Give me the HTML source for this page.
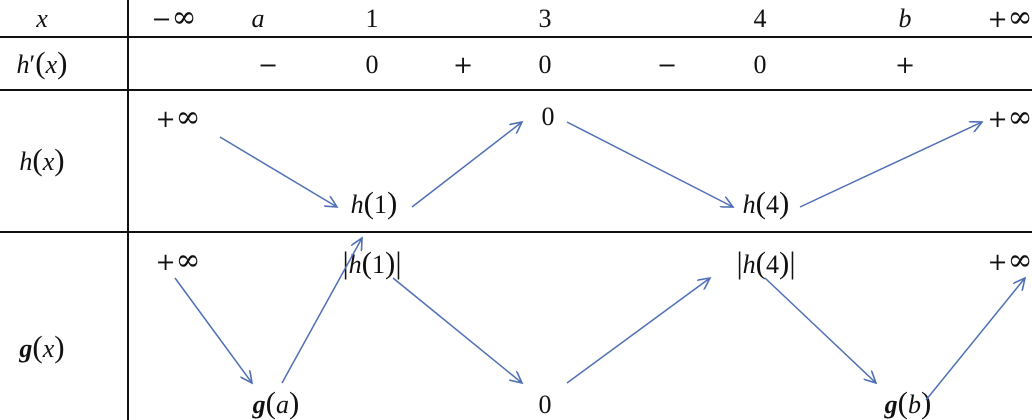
<!DOCTYPE html>
<html><head><meta charset="utf-8"><style>
html,body{margin:0;padding:0;background:#fff;}
svg{display:block;}
text{font-family:"Liberation Serif",serif;font-size:26px;fill:#111;}
.i{font-style:italic;}
.s{font-family:"DejaVu Serif",serif;font-size:24px;}
.inf{font-family:"DejaVu Serif",serif;font-size:30px;}
.p{font-size:31px;}
</style></head><body>
<svg width="1032" height="420" viewBox="0 0 1032 420">
<defs><marker id="a" markerWidth="14" markerHeight="12" refX="12" refY="6" orient="auto" markerUnits="userSpaceOnUse"><path d="M0,0 L12,6 L0,12" fill="none" stroke="#4f6fb5" stroke-width="1.6"/></marker></defs>
<g stroke="#111" stroke-width="2">
<line x1="0" y1="37" x2="1032" y2="37"/>
<line x1="0" y1="90" x2="1032" y2="90"/>
<line x1="0" y1="232" x2="1032" y2="232"/>
<line x1="128" y1="0" x2="128" y2="420"/>
</g>
<g text-anchor="middle">
<text x="42" y="27" class="i">x</text>
<text x="174" y="27"><tspan class="s">−</tspan><tspan class="inf">∞</tspan></text>
<text x="258" y="27" class="i">a</text>
<text x="372" y="27">1</text>
<text x="545" y="27">3</text>
<text x="760" y="27">4</text>
<text x="905" y="27" class="i">b</text>
<text x="1010" y="27"><tspan class="s">+</tspan><tspan class="inf">∞</tspan></text>
<text x="42" y="73"><tspan class="i">h</tspan>′<tspan class="p">(</tspan><tspan class="i">x</tspan><tspan class="p">)</tspan></text>
<text x="268" y="73" class="s">−</text>
<text x="372" y="73">0</text>
<text x="463" y="73" class="s">+</text>
<text x="545" y="73">0</text>
<text x="667" y="73" class="s">−</text>
<text x="760" y="73">0</text>
<text x="905" y="73" class="s">+</text>
<text x="42" y="170"><tspan class="i">h</tspan><tspan class="p">(</tspan><tspan class="i">x</tspan><tspan class="p">)</tspan></text>
<text x="178" y="127"><tspan class="s">+</tspan><tspan class="inf">∞</tspan></text>
<text x="374" y="213"><tspan class="i">h</tspan><tspan class="p">(</tspan>1<tspan class="p">)</tspan></text>
<text x="548" y="125">0</text>
<text x="766" y="213"><tspan class="i">h</tspan><tspan class="p">(</tspan>4<tspan class="p">)</tspan></text>
<text x="1010" y="127"><tspan class="s">+</tspan><tspan class="inf">∞</tspan></text>
<text x="42" y="357"><tspan class="i" font-weight="bold">g</tspan><tspan class="p">(</tspan><tspan class="i">x</tspan><tspan class="p">)</tspan></text>
<text x="178" y="270"><tspan class="s">+</tspan><tspan class="inf">∞</tspan></text>
<text x="372" y="273"><tspan class="p">|</tspan><tspan class="i">h</tspan><tspan class="p">(</tspan>1<tspan class="p">)|</tspan></text>
<text x="766" y="273"><tspan class="p">|</tspan><tspan class="i">h</tspan><tspan class="p">(</tspan>4<tspan class="p">)|</tspan></text>
<text x="1010" y="270"><tspan class="s">+</tspan><tspan class="inf">∞</tspan></text>
<text x="276" y="413"><tspan class="i" font-weight="bold">g</tspan><tspan class="p">(</tspan><tspan class="i">a</tspan><tspan class="p">)</tspan></text>
<text x="545" y="413">0</text>
<text x="908" y="413"><tspan class="i" font-weight="bold">g</tspan><tspan class="p">(</tspan><tspan class="i">b</tspan><tspan class="p">)</tspan></text>
</g>
<g stroke="#4f6fb5" stroke-width="1.5" fill="none" marker-end="url(#a)">
<line x1="220" y1="137" x2="337" y2="207"/>
<line x1="412" y1="207" x2="522" y2="122"/>
<line x1="567" y1="122" x2="733" y2="207"/>
<line x1="800" y1="207" x2="982" y2="122"/>
<line x1="175" y1="278" x2="252" y2="383"/>
<line x1="282" y1="383" x2="362" y2="238"/>
<line x1="393" y1="278" x2="522" y2="383"/>
<line x1="567" y1="383" x2="710" y2="278"/>
<line x1="765" y1="278" x2="876" y2="383"/>
<line x1="926" y1="400" x2="1025" y2="278"/>
</g>
</svg>
</body></html>
